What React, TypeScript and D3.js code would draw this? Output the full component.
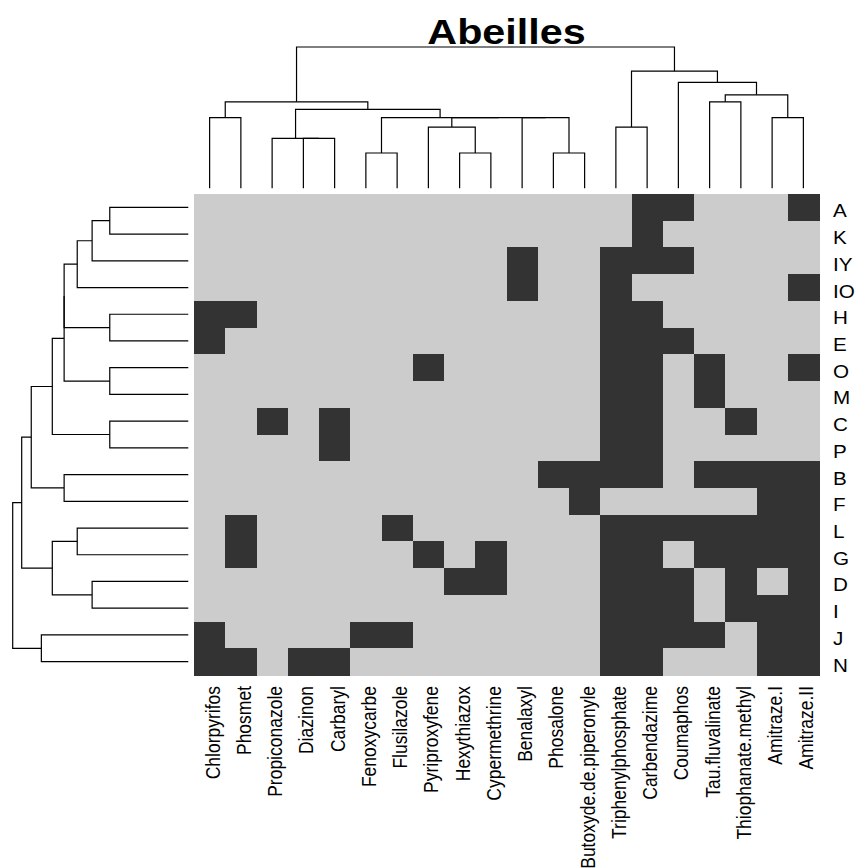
import { useEffect, useRef } from "react";
import * as d3 from "d3";

const title = "Abeilles";

const colLabels = [
  "Chlorpyrifos", "Phosmet", "Propiconazole", "Diazinon", "Carbaryl",
  "Fenoxycarbe", "Flusilazole", "Pyriproxyfene", "Hexythiazox", "Cypermethrine",
  "Benalaxyl", "Phosalone", "Butoxyde.de.piperonyle", "Triphenylphosphate", "Carbendazime",
  "Coumaphos", "Tau.fluvalinate", "Thiophanate.methyl", "Amitraze.I", "Amitraze.II",
];

const rowLabels = ["A", "K", "IY", "IO", "H", "E", "O", "M", "C", "P", "B", "F", "L", "G", "D", "I", "J", "N"];

// presence (1) / absence (0), one string per row, columns in colLabels order (grouped by 5)
const cells = [
  "00000 00000 00001 10001",
  "00000 00000 00001 00000",
  "00000 00000 10011 10000",
  "00000 00000 10010 00001",
  "11000 00000 00011 00000",
  "10000 00000 00011 10000",
  "00000 00100 00011 01001",
  "00000 00000 00011 01000",
  "00101 00000 00011 00100",
  "00001 00000 00011 00000",
  "00000 00000 01111 01111",
  "00000 00000 00100 00011",
  "01000 01000 00011 11111",
  "01000 00101 00011 01111",
  "00000 00011 00011 10101",
  "00000 00000 00011 10111",
  "10000 11000 00011 11011",
  "11011 00000 00011 00011",
];

// hclust-style merges: negative = leaf (1-based, display order), positive = earlier merge
const colMerge: [number, number][] = [
  [-6, -7], [-9, -10], [-12, -13], [-4, -5], [-3, 4], [-8, 2], [-14, -15],
  [-1, -2], [-11, 3], [6, 9], [1, 10], [-19, -20], [5, 11], [8, 13],
  [-17, -18], [15, 12], [-16, 16], [7, 17], [14, 18],
];
const colHeights = [1, 1, 1, 1.414, 1.414, 1.732, 1.732, 2, 2, 2, 2, 2, 2.236, 2.449, 2.449, 2.646, 3, 3.317, 4];

const rowMerge: [number, number][] = [
  [-1, -2], [-5, -6], [-7, -8], [-9, -10], [1, -3], [-15, -16], [5, -4],
  [-13, -14], [7, 2], [9, 3], [-11, -12], [10, 4], [8, 6], [-17, -18],
  [12, 11], [15, 13], [16, 14],
];
const rowHeights = [1.414, 1.414, 1.414, 1.414, 1.732, 1.732, 2, 2, 2.236, 2.236, 2.236, 2.449, 2.449, 2.646, 2.828, 3, 3.162];

type Seg = { pa: number; ha: number; pb: number; hb: number; h: number };

function layoutTree(merge: [number, number][], heights: number[], leafPos: (i: number) => number): Seg[] {
  const pos: number[] = [];
  return merge.map(([a, b], i) => {
    const pa = a < 0 ? leafPos(-a - 1) : pos[a - 1];
    const pb = b < 0 ? leafPos(-b - 1) : pos[b - 1];
    const ha = a < 0 ? 0 : heights[a - 1];
    const hb = b < 0 ? 0 : heights[b - 1];
    pos[i] = (pa + pb) / 2;
    return { pa, ha, pb, hb, h: heights[i] };
  });
}

const App = () => {
  const svgRef = useRef<SVGSVGElement>(null);
  const width = 855;
  const height = 868;

  useEffect(() => {
    if (!svgRef.current) return;
    const svg = d3.select(svgRef.current);
    svg.selectAll("*").remove();

    const hm = { left: 194, right: 819, top: 194, bottom: 675 };
    const font = "'Liberation Sans', Arial, Helvetica, sans-serif";
    const stretch = 1.18; // text in the original is a bit wider than it is tall

    const x = d3.scaleBand<string>().domain(colLabels).range([hm.left, hm.right]);
    const y = d3.scaleBand<string>().domain(rowLabels).range([hm.top, hm.bottom]);
    const colH = d3.scaleLinear().domain([0, d3.max(colHeights)!]).range([188.3, 47]);
    const rowH = d3.scaleLinear().domain([0, d3.max(rowHeights)!]).range([188.3, 12.7]);

    // heatmap cells
    const cellData = rowLabels.flatMap((r, i) => {
      const bits = cells[i].replace(/ /g, "");
      return colLabels.map((c, j) => ({ r, c, v: +bits[j] }));
    });
    svg.append("g")
      .selectAll("rect")
      .data(cellData)
      .join("rect")
      .attr("x", d => x(d.c)!)
      .attr("y", d => y(d.r)!)
      .attr("width", x.bandwidth() + 0.5)
      .attr("height", y.bandwidth() + 0.5)
      .attr("fill", d => d.v ? "#333333" : "#cccccc")
      .attr("shape-rendering", "crispEdges");

    // column dendrogram
    const colSegs = layoutTree(colMerge, colHeights, i => x(colLabels[i])! + x.bandwidth() / 2);
    svg.append("g")
      .selectAll("path")
      .data(colSegs)
      .join("path")
      .attr("d", s => `M${s.pa},${colH(s.ha)}V${colH(s.h)}H${s.pb}V${colH(s.hb)}`)
      .attr("fill", "none")
      .attr("stroke", "#000")
      .attr("stroke-width", 1.2);

    // row dendrogram
    const rowSegs = layoutTree(rowMerge, rowHeights, i => y(rowLabels[i])! + y.bandwidth() / 2);
    svg.append("g")
      .selectAll("path")
      .data(rowSegs)
      .join("path")
      .attr("d", s => `M${rowH(s.ha)},${s.pa}H${rowH(s.h)}V${s.pb}H${rowH(s.hb)}`)
      .attr("fill", "none")
      .attr("stroke", "#000")
      .attr("stroke-width", 1.2);

    // row labels
    svg.append("g")
      .selectAll("text")
      .data(rowLabels)
      .join("text")
      .attr("transform", d => `translate(${hm.right + 14},${y(d)! + y.bandwidth() / 2 + 10}) scale(${stretch},1)`)
      .attr("font-family", font)
      .attr("font-size", 17.5)
      .attr("fill", "#000")
      .text(d => d);

    // column labels
    svg.append("g")
      .selectAll("text")
      .data(colLabels)
      .join("text")
      .attr("transform", d => `translate(${x(d)! + x.bandwidth() / 2 + 10},${hm.bottom + 11}) rotate(-90) scale(1,${stretch})`)
      .attr("text-anchor", "end")
      .attr("font-family", font)
      .attr("font-size", 17.5)
      .attr("fill", "#000")
      .text(d => d);

    // title
    svg.append("text")
      .attr("transform", `translate(${(hm.left + hm.right) / 2},44) scale(${stretch},1)`)
      .attr("text-anchor", "middle")
      .attr("font-family", font)
      .attr("font-weight", "bold")
      .attr("font-size", 35)
      .attr("fill", "#000")
      .text(title);
  }, []);

  return (
    <div style={{ position: "absolute", left: 0, top: 0, background: "#fff" }}>
      <svg ref={svgRef} width={width} height={height} style={{ display: "block" }} />
    </div>
  );
};

export default App;
